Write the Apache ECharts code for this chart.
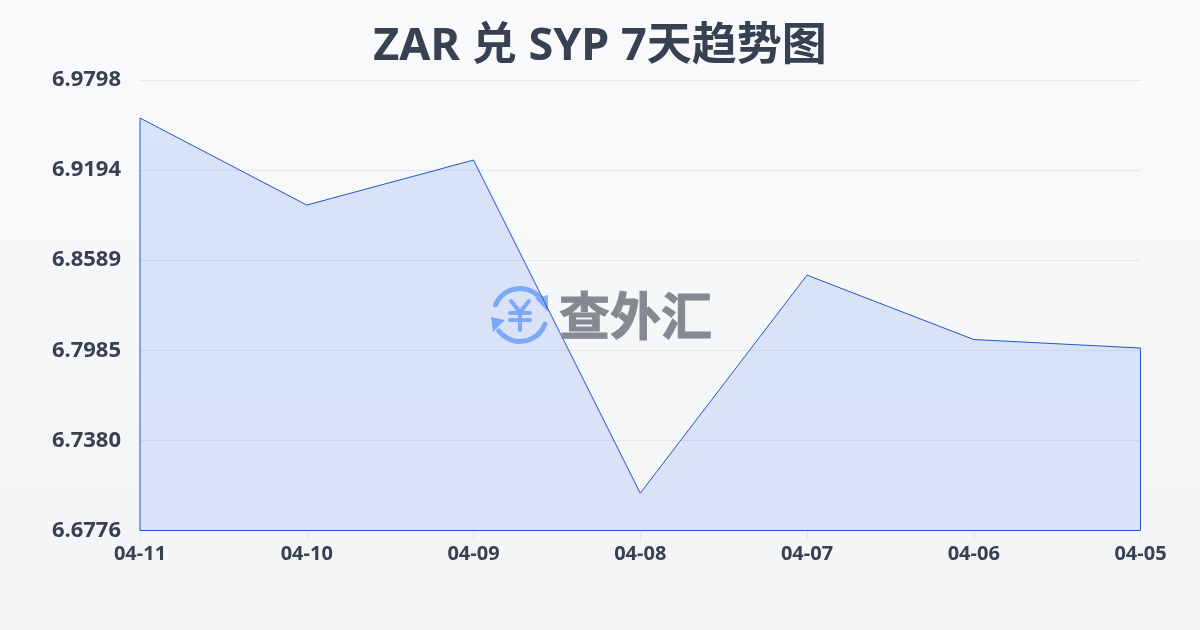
<!DOCTYPE html>
<html><head><meta charset="utf-8">
<style>html,body{margin:0;padding:0;background:#f5f7fa}#c{width:1200px;height:630px}</style>
<script src="https://cdn.jsdelivr.net/npm/echarts@6/dist/echarts.min.js"></script>
</head><body><div id="c"></div>
<script>
const titleText = 'ZAR 兑 SYP 7天趋势图';
const dates = ['04-11','04-10','04-09','04-08','04-07','04-06','04-05'];
const rates = [6.9543,6.8959,6.9261,6.7026,6.8489,6.8057,6.8000];
const yTicks = ['6.6776','6.7380','6.7985','6.8589','6.9194','6.9798'];
const font = '"Noto Sans","Noto Sans CJK SC",sans-serif';
const ink = '#374151';
const blue = '#8ab4f8';
const yMin = +yTicks[0], yMax = +yTicks[yTicks.length-1];
const outline = [[0,yMin]].concat(rates.map((v,i)=>[i,v]),[[rates.length-1,yMin],[0,yMin]]);
const chart = echarts.init(document.getElementById('c'),null,{renderer:'canvas'});
const iconStroke = {stroke:blue,lineWidth:4,fill:null,lineCap:'round',lineJoin:'round'};
chart.setOption({
  animation:false,
  backgroundColor:new echarts.graphic.LinearGradient(0,0,0,1,[{offset:0,color:'#f9fafc'},{offset:1,color:'#f3f4f6'}]),
  title:{text:titleText,left:'center',top:20,textStyle:{fontFamily:font,fontSize:45,fontWeight:'bold',color:ink}},
  grid:{left:140,right:59.5,top:80,bottom:99.5,containLabel:false},
  xAxis:{type:'category',data:dates,boundaryGap:false,
    axisLine:{show:false},
    axisTick:{show:true,alignWithLabel:true,length:10,lineStyle:{color:'#e5e7eb'}},
    axisLabel:{interval:0,margin:14,fontFamily:font,fontSize:20,fontWeight:'bold',color:ink},
    splitLine:{show:false}},
  yAxis:{type:'value',min:yMin,max:yMax,
    axisLine:{show:false},axisTick:{show:false,customValues:yTicks.map(Number)},
    axisLabel:{customValues:yTicks.map(Number),margin:19,fontFamily:font,fontSize:22,fontWeight:'bold',color:ink,
      formatter:v=>v.toFixed(4)},
    splitLine:{show:true,lineStyle:{color:'#e5e7eb',width:1}}},
  series:[{type:'line',data:outline,symbol:'none',smooth:false,z:3,
    lineStyle:{color:'#2257c4',width:1},
    areaStyle:{opacity:1,origin:'start',color:new echarts.graphic.LinearGradient(0,0,0,1,[{offset:0,color:'rgba(37,99,235,0.15)'},{offset:1,color:'rgba(37,99,235,0.13)'}])}}],
  graphic:[
    {type:'group',x:490,y:286,silent:true,z:10,children:[
      {type:'arc',shape:{cx:30,cy:29,r:26.5,startAngle:-2.75,endAngle:-0.55},style:{stroke:blue,lineWidth:5,fill:null,lineCap:'round'}},
      {type:'arc',shape:{cx:30,cy:29,r:26.5,startAngle:0.35,endAngle:2.5},style:{stroke:blue,lineWidth:5,fill:null,lineCap:'round'}},
      {type:'polygon',shape:{points:[[45,12],[58,9],[58,26]]},style:{fill:blue}},
      {type:'polygon',shape:{points:[[1,31],[15,34],[3,46]]},style:{fill:blue}},
      {type:'polyline',shape:{points:[[21,15],[30,26],[39,15]]},style:iconStroke},
      {type:'line',shape:{x1:20,y1:27,x2:40,y2:27},style:iconStroke},
      {type:'line',shape:{x1:20,y1:34,x2:40,y2:34},style:iconStroke},
      {type:'line',shape:{x1:30,y1:26,x2:30,y2:44},style:iconStroke}
    ]},
    {type:'text',x:559,y:290,silent:true,z:10,style:{text:'查外汇',fontFamily:'"Noto Sans CJK SC"',fontSize:51,fontWeight:'bold',fill:'#858a92',stroke:'#858a92',lineWidth:1}}
  ]
});
</script></body></html>
